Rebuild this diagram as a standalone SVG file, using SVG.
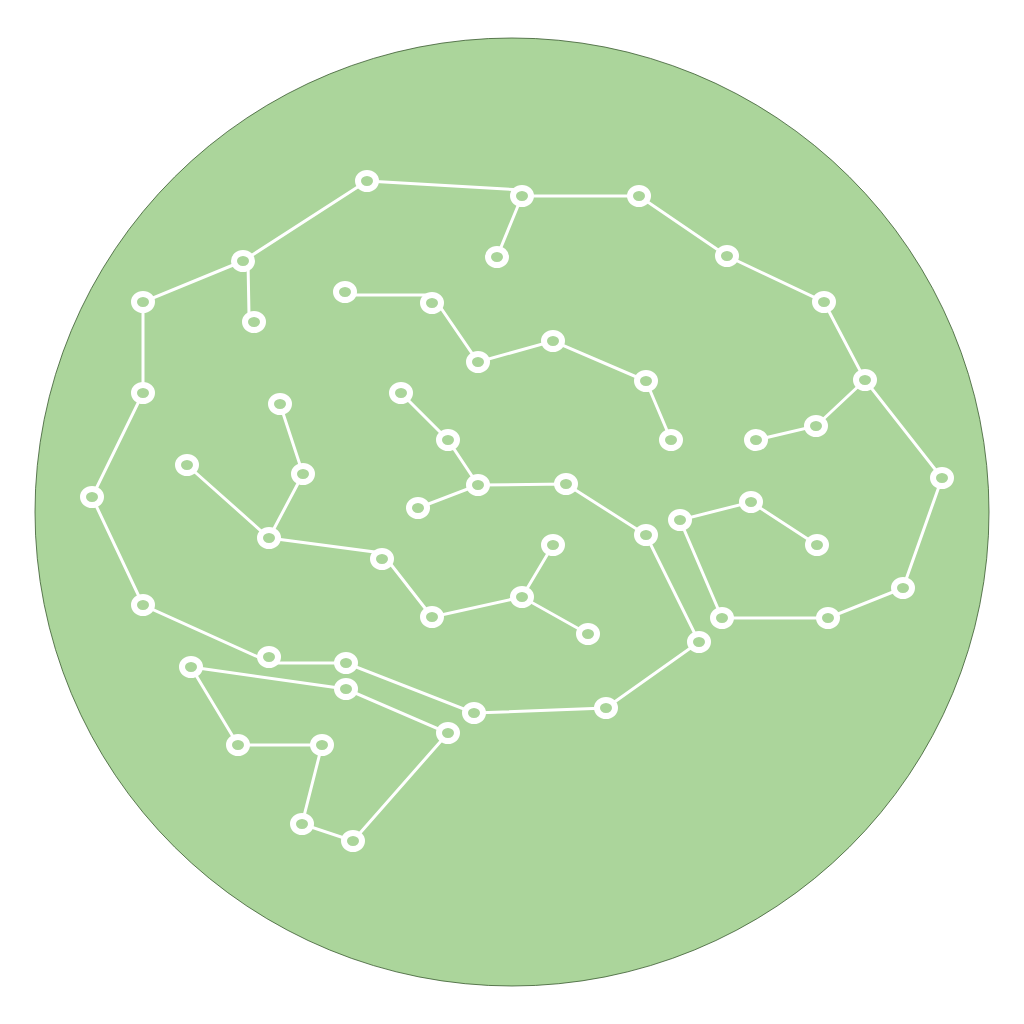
<svg xmlns="http://www.w3.org/2000/svg" width="1024" height="1024" viewBox="0 0 1024 1024">
<style>
.bg{fill:#abd59b;stroke:#3a5a30;stroke-width:0.8}
.e{stroke:#ffffff;stroke-width:3;fill:none;stroke-linecap:round}
.n{fill:#abd59b;stroke:#ffffff;stroke-width:6}
</style>
<rect width="1024" height="1024" fill="#ffffff"/>
<ellipse class="bg" cx="512" cy="512" rx="477" ry="474"/>
<g id="connectors">
<polyline class="e" points="367,181 522,190 522,196 639,196 727,256 824,302 865,380 942,478 903,588 828,618 722,618 680,520 751,502 817,545"/>
<line class="e" x1="367" y1="181" x2="243" y2="261"/>
<line class="e" x1="248" y1="262" x2="249" y2="315"/>
<line class="e" x1="522" y1="196" x2="497" y2="257"/>
<polyline class="e" points="865,380 816,426 756,440"/>
<polyline class="e" points="243,261 143,302 143,393 92,497 143,605 269,662"/>
<polyline class="e" points="269,663 346,663 474,713 606,708 699,642 646,535 566,484 478,485 418,508"/>
<polyline class="e" points="478,485 448,440 401,393"/>
<polyline class="e" points="345,295 432,295 478,362 553,341 646,381 671,440"/>
<polyline class="e" points="280,404 303,474 269,538 187,465"/>
<polyline class="e" points="269,538 382,553 432,617 522,597 553,545"/>
<line class="e" x1="522" y1="597" x2="588" y2="634"/>
<polygon class="e" points="191,667 346,689 448,733 353,841 302,824 322,745 238,745"/>
</g>
<g id="n1"><ellipse class="n" cx="367" cy="181" rx="9" ry="8"/></g>
<g id="n2"><ellipse class="n" cx="522" cy="196" rx="9" ry="8"/></g>
<g id="n3"><ellipse class="n" cx="639" cy="196" rx="9" ry="8"/></g>
<g id="n4"><ellipse class="n" cx="727" cy="256" rx="9" ry="8"/></g>
<g id="n5"><ellipse class="n" cx="824" cy="302" rx="9" ry="8"/></g>
<g id="n6"><ellipse class="n" cx="865" cy="380" rx="9" ry="8"/></g>
<g id="n7"><ellipse class="n" cx="942" cy="478" rx="9" ry="8"/></g>
<g id="n8"><ellipse class="n" cx="903" cy="588" rx="9" ry="8"/></g>
<g id="n9"><ellipse class="n" cx="828" cy="618" rx="9" ry="8"/></g>
<g id="n10"><ellipse class="n" cx="722" cy="618" rx="9" ry="8"/></g>
<g id="n11"><ellipse class="n" cx="680" cy="520" rx="9" ry="8"/></g>
<g id="n12"><ellipse class="n" cx="751" cy="502" rx="9" ry="8"/></g>
<g id="n13"><ellipse class="n" cx="817" cy="545" rx="9" ry="8"/></g>
<g id="n14"><ellipse class="n" cx="497" cy="257" rx="9" ry="8"/></g>
<g id="n15"><ellipse class="n" cx="243" cy="261" rx="9" ry="8"/></g>
<g id="n16"><ellipse class="n" cx="254" cy="322" rx="9" ry="8"/></g>
<g id="n17"><ellipse class="n" cx="143" cy="302" rx="9" ry="8"/></g>
<g id="n18"><ellipse class="n" cx="143" cy="393" rx="9" ry="8"/></g>
<g id="n19"><ellipse class="n" cx="92" cy="497" rx="9" ry="8"/></g>
<g id="n20"><ellipse class="n" cx="143" cy="605" rx="9" ry="8"/></g>
<g id="n21"><ellipse class="n" cx="269" cy="657" rx="9" ry="8"/></g>
<g id="n22"><ellipse class="n" cx="346" cy="663" rx="9" ry="8"/></g>
<g id="n23"><ellipse class="n" cx="474" cy="713" rx="9" ry="8"/></g>
<g id="n24"><ellipse class="n" cx="606" cy="708" rx="9" ry="8"/></g>
<g id="n25"><ellipse class="n" cx="699" cy="642" rx="9" ry="8"/></g>
<g id="n26"><ellipse class="n" cx="646" cy="535" rx="9" ry="8"/></g>
<g id="n27"><ellipse class="n" cx="566" cy="484" rx="9" ry="8"/></g>
<g id="n28"><ellipse class="n" cx="478" cy="485" rx="9" ry="8"/></g>
<g id="n29"><ellipse class="n" cx="418" cy="508" rx="9" ry="8"/></g>
<g id="n30"><ellipse class="n" cx="448" cy="440" rx="9" ry="8"/></g>
<g id="n31"><ellipse class="n" cx="401" cy="393" rx="9" ry="8"/></g>
<g id="n32"><ellipse class="n" cx="345" cy="292" rx="9" ry="8"/></g>
<g id="n33"><ellipse class="n" cx="432" cy="303" rx="9" ry="8"/></g>
<g id="n34"><ellipse class="n" cx="478" cy="362" rx="9" ry="8"/></g>
<g id="n35"><ellipse class="n" cx="553" cy="341" rx="9" ry="8"/></g>
<g id="n36"><ellipse class="n" cx="646" cy="381" rx="9" ry="8"/></g>
<g id="n37"><ellipse class="n" cx="671" cy="440" rx="9" ry="8"/></g>
<g id="n38"><ellipse class="n" cx="816" cy="426" rx="9" ry="8"/></g>
<g id="n39"><ellipse class="n" cx="756" cy="440" rx="9" ry="8"/></g>
<g id="n40"><ellipse class="n" cx="280" cy="404" rx="9" ry="8"/></g>
<g id="n41"><ellipse class="n" cx="303" cy="474" rx="9" ry="8"/></g>
<g id="n42"><ellipse class="n" cx="269" cy="538" rx="9" ry="8"/></g>
<g id="n43"><ellipse class="n" cx="187" cy="465" rx="9" ry="8"/></g>
<g id="n44"><ellipse class="n" cx="382" cy="559" rx="9" ry="8"/></g>
<g id="n45"><ellipse class="n" cx="432" cy="617" rx="9" ry="8"/></g>
<g id="n46"><ellipse class="n" cx="522" cy="597" rx="9" ry="8"/></g>
<g id="n47"><ellipse class="n" cx="553" cy="545" rx="9" ry="8"/></g>
<g id="n48"><ellipse class="n" cx="588" cy="634" rx="9" ry="8"/></g>
<g id="n49"><ellipse class="n" cx="191" cy="667" rx="9" ry="8"/></g>
<g id="n50"><ellipse class="n" cx="346" cy="689" rx="9" ry="8"/></g>
<g id="n51"><ellipse class="n" cx="448" cy="733" rx="9" ry="8"/></g>
<g id="n52"><ellipse class="n" cx="353" cy="841" rx="9" ry="8"/></g>
<g id="n53"><ellipse class="n" cx="302" cy="824" rx="9" ry="8"/></g>
<g id="n54"><ellipse class="n" cx="322" cy="745" rx="9" ry="8"/></g>
<g id="n55"><ellipse class="n" cx="238" cy="745" rx="9" ry="8"/></g>
</svg>
